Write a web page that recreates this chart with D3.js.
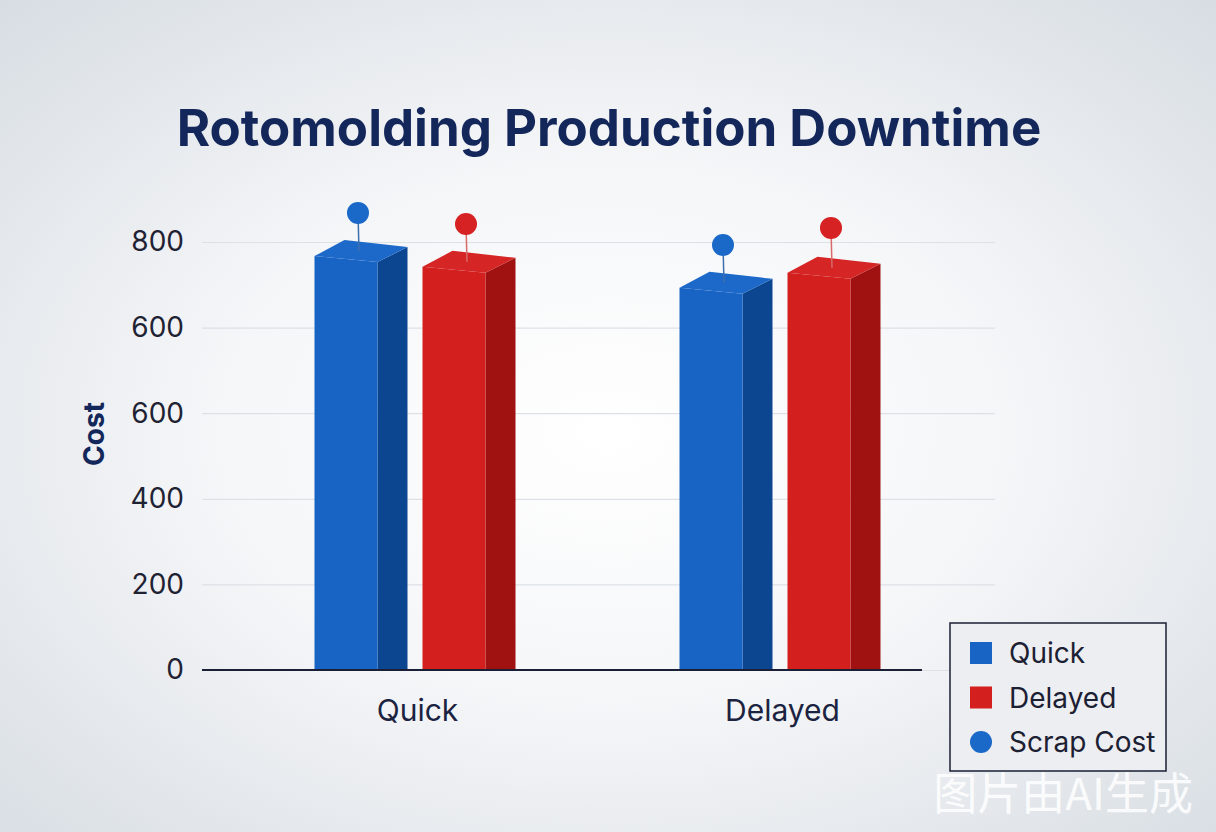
<!DOCTYPE html>
<html>
<head>
<meta charset="utf-8">
<script src="https://cdn.jsdelivr.net/npm/d3@7"></script>
<style>
  html, body { margin: 0; padding: 0; }
  body { width: 1216px; height: 832px; overflow: hidden; }
  svg { display: block; }
</style>
</head>
<body>
<script>
var width = 1216;
var height = 832;

// data
var categories = ["Quick", "Delayed"];
var series = ["Quick", "Delayed"];
var quickCost = [967, 893];
var delayedCost = [942, 928];
var quickScrap = [1068, 993];
var delayedScrap = [1042, 1033];
var tickValues = [0, 200, 400, 600, 800, 1000];
var tickLabels = ["0", "200", "400", "600", "600", "800"];

var colors = {
  Quick: { front: "#1864c4", side: "#0c4590", top: "#1d69c9", dot: "#1a68c8", stem: "#3d6fae" },
  Delayed: { front: "#d41f1f", side: "#a01111", top: "#d52525", dot: "#d62222", stem: "#d86a6a" }
};

var svg = d3.select("body")
  .append("svg")
  .attr("width", width)
  .attr("height", height);

var defs = svg.append("defs");
var bg = defs.append("radialGradient")
  .attr("id", "bg")
  .attr("cx", "50%").attr("cy", "52%").attr("r", "72%");
bg.append("stop").attr("offset", "0%").attr("stop-color", "#ffffff");
bg.append("stop").attr("offset", "45%").attr("stop-color", "#f5f6f8");
bg.append("stop").attr("offset", "100%").attr("stop-color", "#d7dde3");

svg.append("rect")
  .attr("width", width)
  .attr("height", height)
  .attr("fill", "url(#bg)");

var y = d3.scaleLinear().domain([0, 1000]).range([670, 242]);
var x = d3.scaleBand().domain(categories).range([235, 965]);
var xs = d3.scaleBand().domain(series).range([-100, 71]).paddingInner(0.4167);

// grid + y labels
var yAxis = svg.append("g")
  .attr("transform", "translate(202,0)")
  .call(d3.axisLeft(y)
    .tickValues(tickValues)
    .tickFormat(function(d, i) { return tickLabels[i]; })
    .tickSize(-793)
    .tickPadding(18));
yAxis.select(".domain").remove();
yAxis.selectAll(".tick line")
  .attr("stroke", "#dde1e6")
  .attr("stroke-width", 1.2);
yAxis.selectAll(".tick text")
  .attr("fill", "#1f2233")
  .style("font-family", "Inter, 'Noto Sans', sans-serif")
  .style("font-size", "28px");

// category labels
var xAxis = svg.append("g")
  .attr("transform", "translate(0,670)")
  .call(d3.axisBottom(x).tickSize(0).tickPadding(30));
xAxis.select(".domain").remove();
xAxis.selectAll(".tick text")
  .attr("fill", "#1c2340")
  .style("font-family", "Inter, 'Noto Sans', sans-serif")
  .style("font-size", "30px");

// bars
var rows = [];
categories.forEach(function(c, i) {
  rows.push({ cat: c, s: "Quick", v: quickCost[i], scrap: quickScrap[i] });
  rows.push({ cat: c, s: "Delayed", v: delayedCost[i], scrap: delayedScrap[i] });
});

var depthX = 30, depthY = -15, slant = 6;
var bw = xs.bandwidth();

var bars = svg.append("g").selectAll("g")
  .data(rows)
  .enter().append("g");

bars.each(function(d) {
  var g = d3.select(this);
  var x0 = x(d.cat) + x.bandwidth() / 2 + xs(d.s) - 3;
  var x1 = x0 + bw;
  var y0 = y(d.v);
  var y1 = y0 + slant;
  var base = y(0);
  var c = colors[d.s];

  g.append("path")
    .attr("d", "M" + [x1, y1] + "L" + [x1 + depthX, y1 + depthY] + "L" + [x1 + depthX, base - 1] + "L" + [x1, base] + "Z")
    .attr("fill", c.side);
  g.append("path")
    .attr("d", "M" + [x0, y0] + "L" + [x1, y1] + "L" + [x1, base] + "L" + [x0, base] + "Z")
    .attr("fill", c.front);
  g.append("path")
    .attr("d", "M" + [x0, y0] + "L" + [x0 + depthX, y0 + depthY - 1] + "L" + [x1 + depthX, y1 + depthY] + "L" + [x1, y1] + "Z")
    .attr("fill", c.top);

  var cx = x0 + bw / 2 + 12;
  var cy = y(d.scrap);
  g.append("line")
    .attr("x1", cx).attr("x2", cx + 1)
    .attr("y1", cy).attr("y2", y0 - 5)
    .attr("stroke", c.stem)
    .attr("stroke-width", 1.5);
  g.append("circle")
    .attr("cx", cx)
    .attr("cy", cy)
    .attr("r", 11)
    .attr("fill", c.dot);
});

// baseline
svg.append("line")
  .attr("x1", 202).attr("x2", 922)
  .attr("y1", y(0)).attr("y2", y(0))
  .attr("stroke", "#1a1f35")
  .attr("stroke-width", 2);

// title
svg.append("text")
  .attr("x", 609)
  .attr("y", 146)
  .attr("text-anchor", "middle")
  .attr("fill", "#14275a")
  .style("font-family", "Inter, 'Noto Sans', sans-serif")
  .style("font-weight", 700)
  .style("font-size", "51px")
  .text("Rotomolding Production Downtime");

// y title
svg.append("text")
  .attr("transform", "translate(104,434) rotate(-90)")
  .attr("text-anchor", "middle")
  .attr("fill", "#14275a")
  .style("font-family", "Inter, 'Noto Sans', sans-serif")
  .style("font-weight", 700)
  .style("font-size", "28px")
  .text("Cost");

// legend
var legend = svg.append("g").attr("transform", "translate(950,623)");
legend.append("rect")
  .attr("width", 216)
  .attr("height", 148)
  .attr("fill", "#eceef1")
  .attr("stroke", "#1a1f35")
  .attr("stroke-width", 1.5);

var legendItems = [
  { label: "Quick", shape: "rect", color: colors.Quick.front },
  { label: "Delayed", shape: "rect", color: colors.Delayed.front },
  { label: "Scrap Cost", shape: "circle", color: colors.Quick.dot }
];
var ly = d3.scalePoint().domain(legendItems.map(function(d) { return d.label; })).range([30, 119]);

var item = legend.selectAll("g.item")
  .data(legendItems)
  .enter().append("g")
  .attr("class", "item")
  .attr("transform", function(d) { return "translate(0," + ly(d.label) + ")"; });

item.filter(function(d) { return d.shape === "rect"; })
  .append("rect")
  .attr("x", 20).attr("y", -11)
  .attr("width", 22).attr("height", 22)
  .attr("fill", function(d) { return d.color; });
item.filter(function(d) { return d.shape === "circle"; })
  .append("circle")
  .attr("cx", 31).attr("cy", 0).attr("r", 11)
  .attr("fill", function(d) { return d.color; });
item.append("text")
  .attr("x", 59)
  .attr("dy", "0.36em")
  .attr("fill", "#1c2033")
  .style("font-family", "Inter, 'Noto Sans', sans-serif")
  .style("font-size", "28px")
  .text(function(d) { return d.label; });

// watermark
svg.append("text")
  .attr("x", 1193)
  .attr("y", 810)
  .attr("text-anchor", "end")
  .attr("fill", "#ffffff")
  .attr("fill-opacity", 0.85)
  .style("font-family", "'Noto Sans CJK SC', sans-serif")
  .style("font-size", "44px")
  .text("图片由AI生成");
</script>
</body>
</html>
